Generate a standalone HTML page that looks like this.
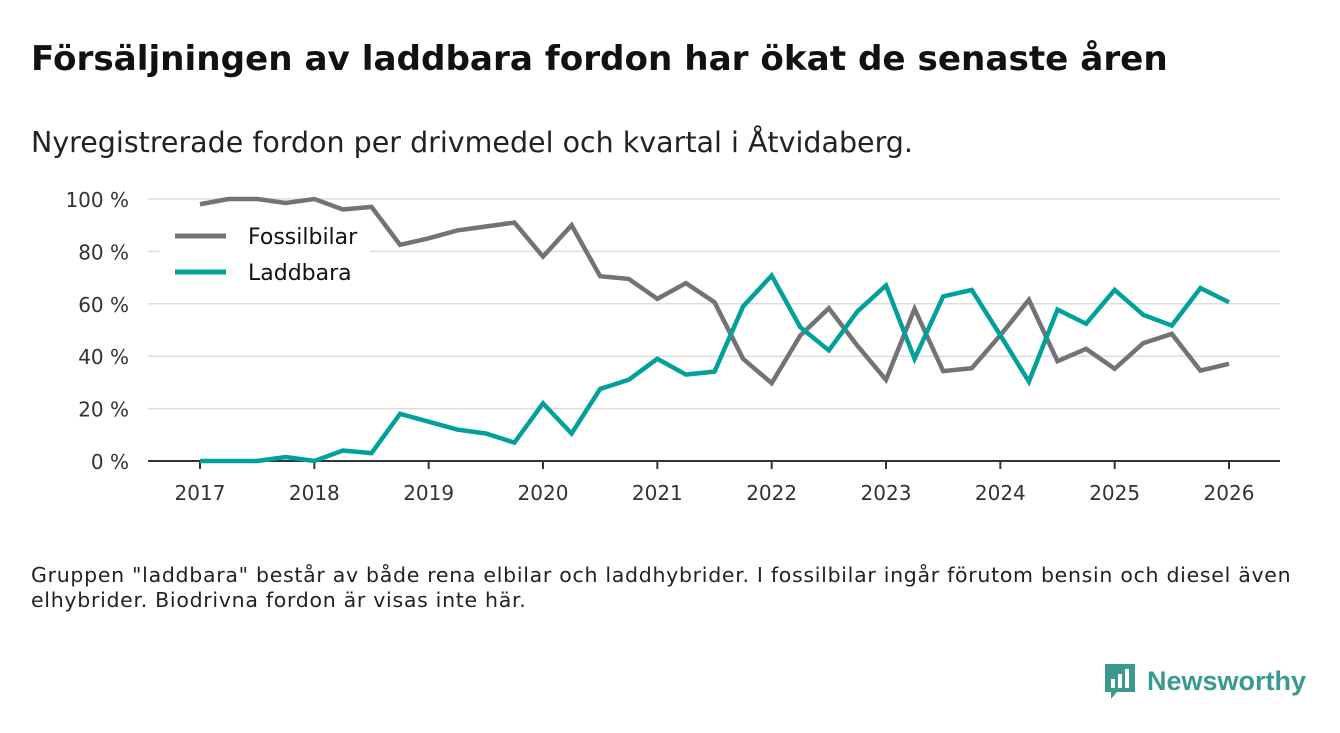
<!DOCTYPE html>
<html><head><meta charset="utf-8"><style>
body{margin:0;width:1340px;height:733px;background:#fff;font-family:"DejaVu Sans","Liberation Sans",sans-serif;overflow:hidden;position:relative}
.t{position:absolute;left:31px;top:39px;font-size:34.2px;font-weight:bold;color:#111}
.s{position:absolute;left:31px;top:126px;font-size:28.5px;color:#222}
.f{position:absolute;left:31px;top:563px;font-size:20.5px;letter-spacing:0.7px;color:#222;line-height:25px;width:1310px;white-space:nowrap}
.logo{position:absolute;left:1103px;top:662px;display:flex;align-items:center}
</style></head><body>
<div class="t">Försäljningen av laddbara fordon har ökat de senaste åren</div>
<div class="s">Nyregistrerade fordon per drivmedel och kvartal i Åtvidaberg.</div>
<svg id="c" width="1340" height="733" style="position:absolute;left:0;top:0"></svg>
<div class="f">Gruppen "laddbara" består av både rena elbilar och laddhybrider. I fossilbilar ingår förutom bensin och diesel även<br>elhybrider. Biodrivna fordon är visas inte här.</div>
<div class="logo">
<svg width="34" height="38" viewBox="0 0 34 38"><path d="M2 2h30v28H14l-6 7v-7H2z" fill="#3a9a8f"/><rect x="8" y="17" width="4" height="9" fill="#fff"/><rect x="15" y="12" width="4" height="14" fill="#fff"/><rect x="22" y="7" width="4" height="19" fill="#fff"/></svg>
<span style="margin-left:10px;font-size:27px;font-weight:bold;color:#3a9a8f;font-family:'Liberation Sans',sans-serif">Newsworthy</span></div>
<script>
const years=[2017,2018,2019,2020,2021,2022,2023,2024,2025,2026];
const yTicks=[0,20,40,60,80,100];
const fossil=[98,100,100,98.5,100,96,97,82.5,85,88,89.5,91,78,90,70.5,69.5,61.9,67.9,60.6,39,29.7,47.9,58.3,44,31,58.1,34.3,35.4,48,61.5,38.1,42.8,35.2,45,48.5,34.5,37.1];
const laddbara=[0,0,0,1.5,0,4,3,18,15,12,10.5,7,22,10.5,27.5,31,39,33,34.1,59,70.8,51.1,42.2,57.1,67,39,62.8,65.3,48,30.3,57.8,52.4,65.3,55.8,51.7,66,60.6];
const NS="http://www.w3.org/2000/svg",svg=document.getElementById('c');
const X=t=>200+(t-2017)*(1229-200)/9, Y=v=>461-v*(461-199)/100;
function mk(tag,a){const e=document.createElementNS(NS,tag);for(const k in a)e.setAttribute(k,a[k]);svg.appendChild(e);return e;}
yTicks.forEach(v=>{
 if(v>0){const g=mk('line',{x1:148,x2:1280,y1:Y(v),y2:Y(v),stroke:'#ddd','stroke-width':1.5});
 
 }
 const t=mk('text',{x:129,y:Y(v)+8,'text-anchor':'end','font-size':20,fill:'#333'});t.textContent=v+' %';
 
 
});
const ax=mk('line',{x1:148,x2:1280,y1:461,y2:461,stroke:'#333','stroke-width':2});


years.forEach(y=>{
 mk('line',{x1:X(y),x2:X(y),y1:461,y2:469,stroke:'#333','stroke-width':2});
 const t=mk('text',{x:X(y),y:500,'text-anchor':'middle','font-size':20,fill:'#333'});t.textContent=y;
 
 
});
const bg=mk('rect',{x:160,y:218,width:210,height:72,fill:'#fff'});


function series(d,c,n){const p=mk('polyline',{points:d.map((v,i)=>X(2017+i/4)+','+Y(v)).join(' '),fill:'none',stroke:c,'stroke-width':4.5,'stroke-linejoin':'miter'});
 
 }
series(fossil,'#737276','line-fossilbilar');
series(laddbara,'#00a19a','line-laddbara');
[['Fossilbilar','#737276',236],['Laddbara','#00a19a',272]].forEach(([l,c,y])=>{
 const g=mk('g',{});
 
 
 const ln=document.createElementNS(NS,'line');ln.setAttribute('x1',175);ln.setAttribute('x2',226);ln.setAttribute('y1',y);ln.setAttribute('y2',y);ln.setAttribute('stroke',c);ln.setAttribute('stroke-width',5);g.appendChild(ln);
 const t=document.createElementNS(NS,'text');t.setAttribute('x',248);t.setAttribute('y',y+8);t.setAttribute('font-size',22);t.setAttribute('fill','#111');t.textContent=l;g.appendChild(t);
});
</script>
</body></html>
